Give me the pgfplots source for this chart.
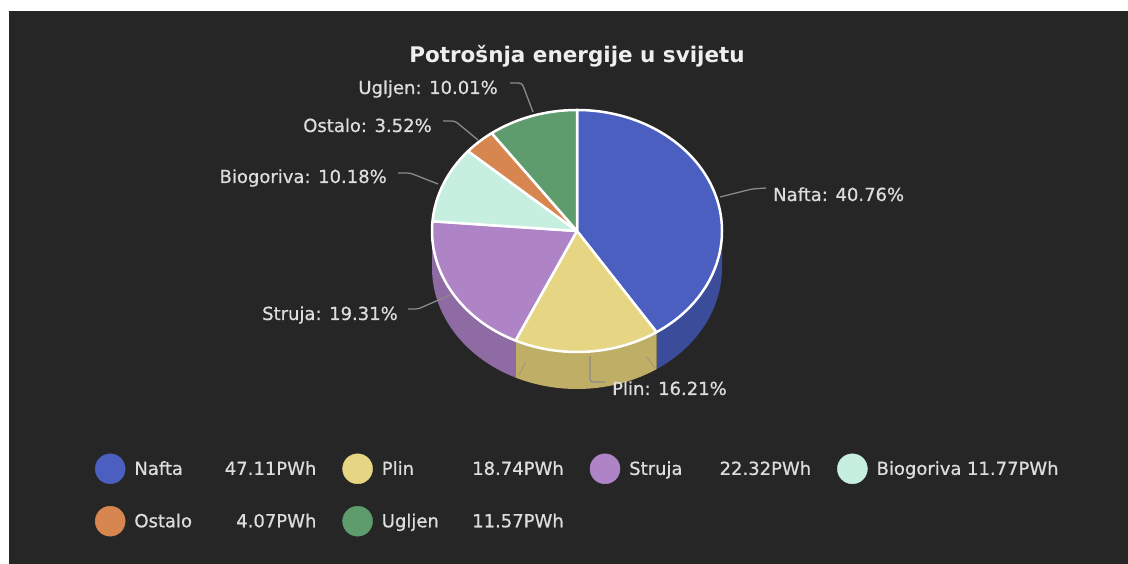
\documentclass[border=0pt]{standalone}
\usepackage{fontspec}
\setmainfont{DejaVu Sans}
\newfontfamily\lblfont{DejaVu Sans}[FakeBold=0.7]
\usepackage{pgfplots}
\usepackage{pgfplotstable}
\pgfplotsset{compat=1.18}

\definecolor{bg}{HTML}{262626}
\definecolor{cNafta}{HTML}{4A5FBF}
\definecolor{sNafta}{HTML}{3A4C9A}
\definecolor{cPlin}{HTML}{E6D582}
\definecolor{sPlin}{HTML}{BFAE66}
\definecolor{cStruja}{HTML}{AF84C7}
\definecolor{sStruja}{HTML}{8E6BA3}
\definecolor{cBio}{HTML}{C7EFDF}
\definecolor{cOstalo}{HTML}{D8864F}
\definecolor{cUgljen}{HTML}{5E9B6D}
\definecolor{lead}{HTML}{8A8A8A}
\definecolor{txt}{HTML}{DDDDDD}
\definecolor{ttl}{HTML}{EEEEEE}

% energy consumption, PWh
\pgfplotstableread{
name value
Nafta 47.11
Plin 18.74
Struja 22.32
Biogoriva 11.77
Ostalo 4.07
Ugljen 11.57
}\energy

\pgfplotstablegetelem{0}{value}\of\energy\let\vA\pgfplotsretval
\pgfplotstablegetelem{1}{value}\of\energy\let\vB\pgfplotsretval
\pgfplotstablegetelem{2}{value}\of\energy\let\vC\pgfplotsretval
\pgfplotstablegetelem{3}{value}\of\energy\let\vD\pgfplotsretval
\pgfplotstablegetelem{4}{value}\of\energy\let\vE\pgfplotsretval
\pgfplotstablegetelem{5}{value}\of\energy\let\vF\pgfplotsretval
\pgfmathsetmacro\tot{\vA+\vB+\vC+\vD+\vE+\vF}
\pgfmathsetmacro\eA{90-360*(\vA/\tot)}
\pgfmathsetmacro\eB{\eA-360*(\vB/\tot)}
\pgfmathsetmacro\eC{\eB-360*(\vC/\tot)}
\pgfmathsetmacro\eD{\eC-360*(\vD/\tot)}
\pgfmathsetmacro\eE{\eD-360*(\vE/\tot)}
\pgfmathsetmacro\eF{\eE-360*(\vF/\tot)}

\def\cx{577}\def\cy{333}\def\rx{145}\def\ry{121}\def\dep{37}

\newcommand\topslice[3]{\filldraw[fill=#3, draw=white, line width=2.5pt, line join=round]
  (axis cs:\cx,\cy) -- ([shift={(#1:\rx pt and \ry pt)}]axis cs:\cx,\cy)
  arc[start angle=#1, end angle=#2, x radius=\rx pt, y radius=\ry pt] -- cycle;}
\newcommand\sideslice[3]{\fill[#3]
  ([shift={(#1:\rx pt and \ry pt)}]axis cs:\cx,\cy)
  arc[start angle=#1, end angle=#2, x radius=\rx pt, y radius=\ry pt]
  -- ++(0pt,-\dep pt)
  arc[start angle=#2, end angle=#1, x radius=\rx pt, y radius=\ry pt] -- cycle;}
\newcommand\lgimg[1]{\addlegendimage{legend image code/.code={\fill[#1] (15pt,0pt) circle[radius=15pt];}}}

\begin{document}
\begin{tikzpicture}
\begin{axis}[
  width=1128pt, height=564pt, scale only axis,
  xmin=0, xmax=1128, ymin=0, ymax=564,
  hide axis, clip=false,
  legend columns=4,
  legend cell align=left,
  legend style={at={(axis cs:95,69)}, anchor=west, draw=none, fill=none,
    inner sep=0pt, outer sep=0pt,
    font=\lblfont\fontsize{18}{21}\selectfont, text=txt,
    row sep=22pt, nodes={inner sep=0pt},
    /tikz/every odd column/.append style={column sep=9pt},
    /tikz/every even column/.append style={column sep=26pt}},
]
\fill[white] (axis cs:0,0) rectangle (axis cs:1128,564);
\fill[bg] (axis cs:9,0) rectangle (axis cs:1128,553);

% 3D side
\sideslice{\eA}{0}{sNafta}
\sideslice{\eB}{\eA}{sPlin}
\sideslice{-180}{\eB}{sStruja}

% top face
\topslice{90}{\eA}{cNafta}
\topslice{\eA}{\eB}{cPlin}
\topslice{\eB}{\eC}{cStruja}
\topslice{\eC}{\eD}{cBio}
\topslice{\eD}{\eE}{cOstalo}
\topslice{\eE}{\eF}{cUgljen}

% leader lines
\begin{scope}[lead, line width=1.3pt, rounded corners=3pt]
\draw (axis cs:720,367) -- (axis cs:752,375) -- (axis cs:766,376);
\draw (axis cs:590,208) -- (axis cs:590,182) -- (axis cs:605,182);
\draw (axis cs:408,255) -- (axis cs:418,255) -- (axis cs:450,269);
\draw (axis cs:398,391) -- (axis cs:410,391) -- (axis cs:438,380);
\draw (axis cs:443,443) -- (axis cs:455,443) -- (axis cs:478,424);
\draw (axis cs:510,481) -- (axis cs:522,481) -- (axis cs:533,452);
\end{scope}
\draw[lead, opacity=0.6, line width=1pt] (axis cs:525,201) -- (axis cs:519,189);
\draw[lead, opacity=0.6, line width=1pt] (axis cs:647,207) -- (axis cs:655,196);

% labels
\begin{scope}[every node/.style={inner sep=0pt, text=txt, font=\lblfont\fontsize{18}{21}\selectfont}]
\node[anchor=base west] at (axis cs:773,363) {Nafta: 40.76\%};
\node[anchor=base west] at (axis cs:612,169) {Plin: 16.21\%};
\node[anchor=base east] at (axis cs:398,244) {Struja: 19.31\%};
\node[anchor=base east] at (axis cs:387,381) {Biogoriva: 10.18\%};
\node[anchor=base east] at (axis cs:432,432) {Ostalo: 3.52\%};
\node[anchor=base east] at (axis cs:498,470) {Ugljen: 10.01\%};
\end{scope}

% title
\node[anchor=base, inner sep=0pt, text=ttl, font=\fontsize{21.5}{25}\selectfont\bfseries] at (axis cs:577,501) {Potrošnja energije u svijetu};

% legend
\lgimg{cNafta}\addlegendentry{\makebox[182pt][l]{Nafta\hfill 47.11PWh}}
\lgimg{cPlin}\addlegendentry{\makebox[182pt][l]{Plin\hfill 18.74PWh}}
\lgimg{cStruja}\addlegendentry{\makebox[182pt][l]{Struja\hfill 22.32PWh}}
\lgimg{cBio}\addlegendentry{\makebox[182pt][l]{Biogoriva\hspace{4pt plus 1fill}11.77PWh}}
\lgimg{cOstalo}\addlegendentry{\makebox[182pt][l]{Ostalo\hfill 4.07PWh}}
\lgimg{cUgljen}\addlegendentry{\makebox[182pt][l]{Ugljen\hfill 11.57PWh}}
\end{axis}
\end{tikzpicture}
\end{document}
